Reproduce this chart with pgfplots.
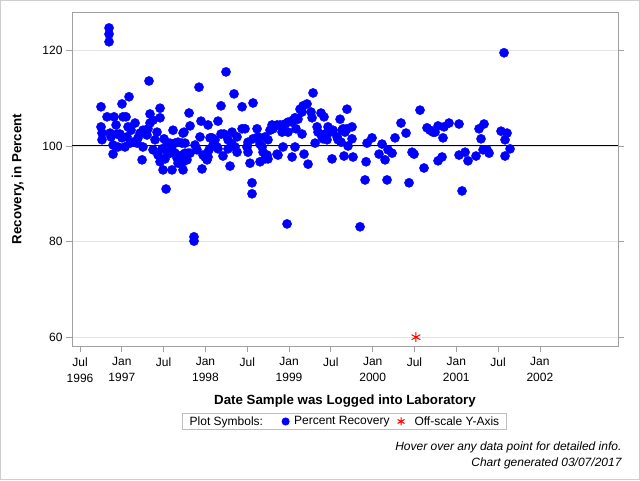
\documentclass[border=0pt]{standalone}
\usepackage{fontspec}
\setmainfont{Liberation Sans}
\usepackage{pgfplots}
\pgfplotsset{compat=1.18}
\definecolor{axgray}{RGB}{160,160,160}
\definecolor{gridgray}{RGB}{228,228,228}
\definecolor{framegray}{RGB}{205,205,205}
\definecolor{legframe}{RGB}{190,190,190}
\begin{document}
\begin{tikzpicture}
\path[use as bounding box] (0,0) rectangle (640pt,480pt);
\draw[framegray, line width=1pt] (0.5pt,0.5pt) rectangle (639.5pt,479.5pt);
\begin{axis}[
  at={(72pt,134pt)}, anchor=south west, scale only axis,
  width=546pt, height=334pt,
  xmin=1996.404, xmax=2002.934, ymin=58.16, ymax=128.03,
  axis line style={axgray, line width=0.8pt},
  xtick={1996.5,1997,1997.5,1998,1998.5,1999,1999.5,2000,2000.5,2001,2001.5,2002},
  xticklabels={{Jul\\1996},{Jan\\1997},{Jul},{Jan\\1998},{Jul},{Jan\\1999},{Jul},{Jan\\2000},{Jul},{Jan\\2001},{Jul},{Jan\\2002}},
  xticklabel style={align=center, font=\fontsize{12}{16}\selectfont, yshift=-2pt},
  ytick={60,80,100,120},
  yticklabel style={font=\fontsize{12}{14}\selectfont},
  /pgf/number format/assume math mode=true,
  tick align=outside, major tick length=6pt,
  tick style={axgray, line width=0.8pt},
  xtick pos=bottom, ytick pos=both,
  ymajorgrids, major grid style={gridgray, line width=0.8pt},
  xlabel={Date Sample was Logged into Laboratory},
  ylabel={Recovery, in Percent},
  label style={font=\fontsize{13.3}{16}\selectfont\bfseries},
  xlabel style={at={(axis description cs:0.5,-0.1647)}, anchor=center},
  ylabel style={at={(axis description cs:-0.0989,0.5)}, anchor=center},
  legend columns=-1,
  legend style={at={(axis description cs:0.499,-0.226)}, anchor=center,
    draw=legframe, line width=0.8pt, font=\fontsize{12}{14}\selectfont,
    inner xsep=5pt, inner ysep=1pt,
    /tikz/column 2/.style={column sep=17pt},
    /tikz/column 3/.style={column sep=3pt},
    /tikz/column 4/.style={column sep=6pt},
    /tikz/column 5/.style={column sep=8pt}},
  legend entries={Plot Symbols:, Percent Recovery, Off-scale Y-Axis},
]
\addplot[black, line width=1pt, forget plot] coordinates {(1996.404,100) (2002.934,100)};
\addlegendimage{empty legend}
\addplot[only marks, mark=*, mark size=4.6pt, color=blue, mark options={draw=blue, fill=blue},
  legend image post style={mark size=3.6pt}] table[x=t, y=v] {
t v
1996.847 124.7
1996.847 123.4
1996.847 121.8
1997.325 113.6
1997.923 112.3
1996.751 108.2
1997.002 108.8
1997.086 110.3
1997.457 107.9
1996.823 106.1
1996.907 106.1
1997.014 106.1
1997.050 106.1
1997.337 106.7
1997.804 106.9
1996.751 104.0
1996.763 102.7
1996.763 101.3
1996.859 102.7
1996.871 101.9
1996.931 104.4
1996.943 102.5
1996.978 102.5
1997.002 101.7
1997.062 101.9
1997.074 104.0
1997.110 103.3
1997.158 104.8
1997.218 102.7
1997.194 101.7
1997.253 103.3
1997.301 102.3
1997.313 103.6
1997.337 104.8
1997.373 105.4
1997.421 102.9
1997.457 105.9
1997.397 101.3
1997.505 101.5
1997.541 100.6
1997.576 100.6
1997.612 103.3
1997.636 100.6
1997.672 100.8
1997.720 100.6
1997.756 100.6
1997.732 102.7
1997.816 104.2
1996.895 100.2
1996.895 98.3
1996.954 99.8
1997.038 99.8
1997.098 100.6
1997.134 100.8
1997.182 100.6
1997.253 99.8
1997.373 99.2
1997.242 97.1
1997.433 98.1
1997.481 99.4
1997.457 96.7
1997.517 97.3
1997.493 95.0
1997.541 98.7
1997.576 98.5
1997.600 99.2
1997.636 98.5
1997.660 97.5
1997.696 97.7
1997.720 98.1
1997.756 98.5
1997.792 98.5
1997.672 96.4
1997.732 96.7
1997.780 97.1
1997.600 95.0
1997.732 95.0
1997.875 100.2
1997.899 99.2
1997.935 101.9
1997.947 105.2
1998.031 104.4
1998.055 101.7
1997.995 98.1
1998.019 97.1
1997.959 95.2
1997.816 98.5
1997.529 91.0
1997.744 102.9
1997.863 81.0
1997.863 80.1
1998.043 99.2
1998.246 115.5
1998.342 110.9
1998.186 108.4
1998.438 108.2
1998.569 109.0
1999.287 111.1
1999.215 108.8
1999.167 108.4
1999.131 107.7
1999.155 107.1
1999.071 105.9
1999.047 105.4
1999.107 105.6
1999.263 107.1
1999.275 105.9
1999.382 106.9
1999.418 106.1
1998.150 105.2
1998.186 102.5
1998.222 102.5
1998.079 101.7
1998.115 101.3
1998.091 100.2
1998.139 99.8
1998.150 99.4
1998.270 101.3
1998.318 102.9
1998.270 99.4
1998.318 100.4
1998.378 101.9
1998.354 99.8
1998.378 98.7
1998.438 103.6
1998.473 103.6
1998.509 100.8
1998.497 99.8
1998.509 98.7
1998.617 103.6
1998.569 101.5
1998.629 101.9
1998.653 100.4
1998.677 99.8
1998.689 98.7
1998.713 101.9
1998.748 101.3
1998.772 103.3
1998.796 104.4
1998.808 103.6
1998.856 104.4
1998.892 104.4
1998.928 104.4
1998.952 104.6
1998.988 105.0
1999.036 105.0
1999.083 103.6
1999.155 102.5
1998.916 102.9
1998.928 99.8
1998.988 102.9
1999.071 99.8
1998.856 98.3
1998.868 98.1
1998.737 98.1
1998.713 97.3
1998.748 97.3
1998.653 96.7
1998.533 96.4
1998.294 95.8
1998.210 97.9
1997.971 98.1
1997.995 97.7
1998.019 97.3
1998.031 97.7
1998.557 92.3
1998.557 90.0
1999.036 97.7
1999.179 98.3
1999.227 96.2
1999.311 100.6
1999.335 104.0
1999.346 102.9
1999.394 101.9
1999.406 101.5
1999.454 101.3
1999.430 102.5
1999.466 104.0
1999.490 102.9
1999.526 103.3
1999.574 101.9
1999.586 101.3
1999.514 97.3
1998.976 83.7
1999.693 107.7
1999.610 105.6
1999.634 103.3
1999.646 103.6
1999.693 103.6
1999.753 104.0
1999.669 102.9
1999.622 100.8
1999.753 101.5
1999.705 100.0
1999.657 97.9
1999.765 97.7
1999.909 92.9
1999.921 96.7
1999.933 100.6
1999.992 101.7
2000.076 98.3
2000.112 100.4
2000.148 97.1
2000.184 99.2
2000.232 98.5
2000.172 92.9
2000.267 101.7
2000.339 104.8
2000.399 102.7
2000.435 92.3
2000.471 98.7
2000.495 98.3
2000.566 107.5
2000.614 95.4
2000.650 103.8
2000.686 103.3
2000.722 102.9
2000.746 102.9
2000.782 104.2
2000.853 104.0
2000.913 104.8
2000.841 101.7
2000.782 96.9
2000.830 97.7
2001.033 104.6
2001.033 98.1
2001.105 98.7
2001.140 96.9
2001.069 90.6
2001.236 97.9
2001.272 103.6
2001.332 104.6
2001.296 101.5
2001.320 99.2
2001.368 99.2
2001.392 98.5
2001.535 103.1
2001.607 102.7
2001.583 101.3
2001.583 97.9
2001.643 99.4
2001.571 119.5
1999.849 83.1
};
\addplot[only marks, mark=asterisk, mark size=5pt, color=red, mark options={line width=1pt},
  legend image post style={mark size=4pt}] coordinates {(2000.518,60)};
\end{axis}
\node[anchor=east, font=\fontsize{12}{14}\selectfont\itshape] at (625pt,33pt) {Hover over any data point for detailed info.};
\node[anchor=east, font=\fontsize{12}{14}\selectfont\itshape] at (625pt,17pt) {Chart generated 03/07/2017};
\end{tikzpicture}
\end{document}
